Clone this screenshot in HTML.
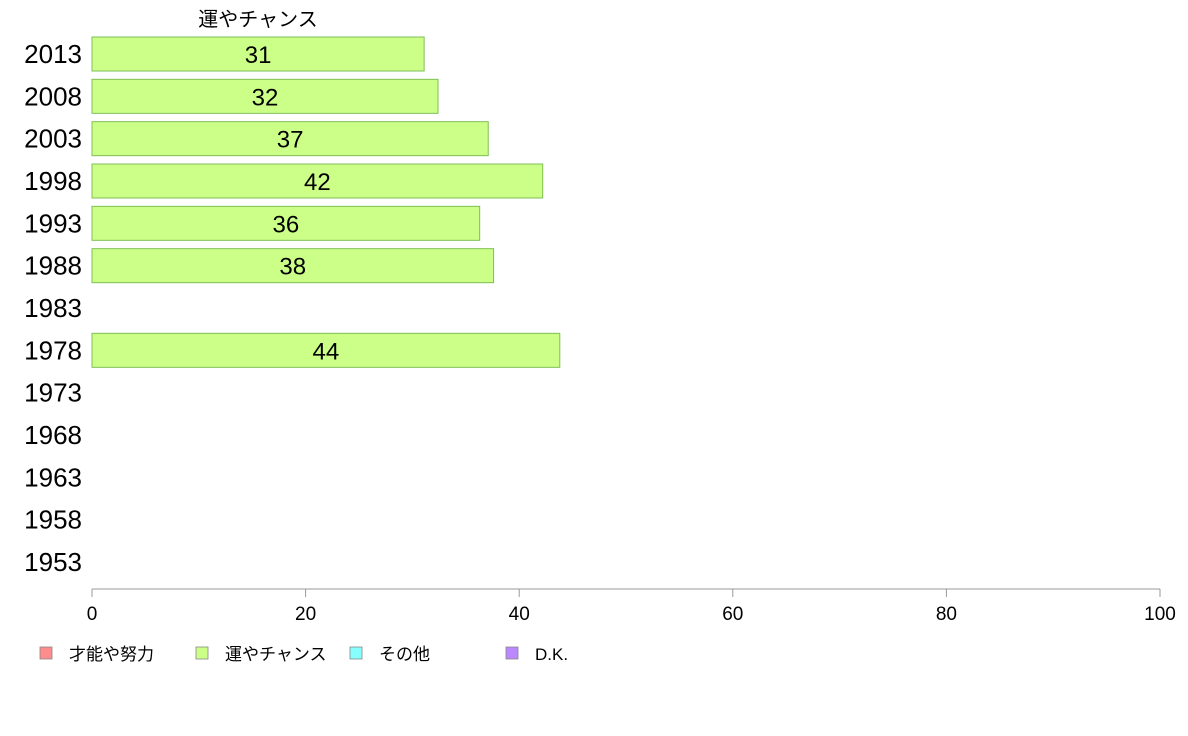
<!DOCTYPE html>
<html><head><meta charset="utf-8"><style>
body{margin:0;background:#fff;font-family:"Liberation Sans","Noto Sans CJK JP",sans-serif;}
svg{display:block}
</style></head><body>
<svg id="chart" width="1188" height="736" xmlns="http://www.w3.org/2000/svg" font-family="Liberation Sans, Noto Sans CJK JP, sans-serif">
<text x="258" y="26" font-size="20" text-anchor="middle">運やチャンス</text>
<g id="bars"></g>
<g id="axis"></g>
<g id="legend"></g>
</svg>
<script>
const years = ["2013","2008","2003","1998","1993","1988","1983","1978","1973","1968","1963","1958","1953"];
const values = [31.1,32.4,37.1,42.2,36.3,37.6,null,43.8,null,null,null,null,null];
const valueLabels = ["31","32","37","42","36","38","","44","","","","",""];
const ticks = [0,20,40,60,80,100];
const legendLabels = ["才能や努力","運やチャンス","その他","D.K."];
const legendColors = ["#ff8c8c","#ccff88","#88ffff","#bb88ff"];

const NS="http://www.w3.org/2000/svg";
const x0=92,x1=1160;
const xs=v=>x0+(x1-x0)*v/100;
const yc=i=>54+i*((562-54)/(years.length-1));
function mk(tag,attrs,parent){const e=document.createElementNS(NS,tag);for(const k in attrs)e.setAttribute(k,attrs[k]);parent.appendChild(e);return e;}
const bars=document.getElementById('bars');
years.forEach((y,i)=>{
  const t=mk('text',{x:82,y:yc(i)+9,'font-size':26,'text-anchor':'end'},bars);
  
  
  t.textContent=y;
  if(values[i]!=null){
    const r=mk('rect',{x:x0,y:yc(i)-17,width:xs(values[i])-x0,height:34,fill:'#ccff88',stroke:'#7fbf55','stroke-width':1},bars);
    
    
    const l=mk('text',{x:(x0+xs(values[i]))/2,y:yc(i)+9,'font-size':24,'text-anchor':'middle'},bars);
    
    
    l.textContent=valueLabels[i];
  }
});
const ax=document.getElementById('axis');
const al=mk('line',{x1:x0,x2:x1,y1:589,y2:589,stroke:'#999'},ax);


ticks.forEach(v=>{
  const tl=mk('line',{x1:xs(v),x2:xs(v),y1:589,y2:597,stroke:'#999'},ax);
  
  
  const tt=mk('text',{x:xs(v),y:620,'font-size':19,'text-anchor':'middle'},ax);
  
  
  tt.textContent=v;
});
const lg=document.getElementById('legend');
const lx=[40,196,350,506];
legendLabels.forEach((s,i)=>{
  const r=mk('rect',{x:lx[i],y:647,width:12,height:12,fill:legendColors[i],stroke:'#888','stroke-width':0.8},lg);
  
  
  const t=mk('text',{x:lx[i]+29,y:660,'font-size':17},lg);
  
  
  t.textContent=s;
});
</script>
</body></html>
